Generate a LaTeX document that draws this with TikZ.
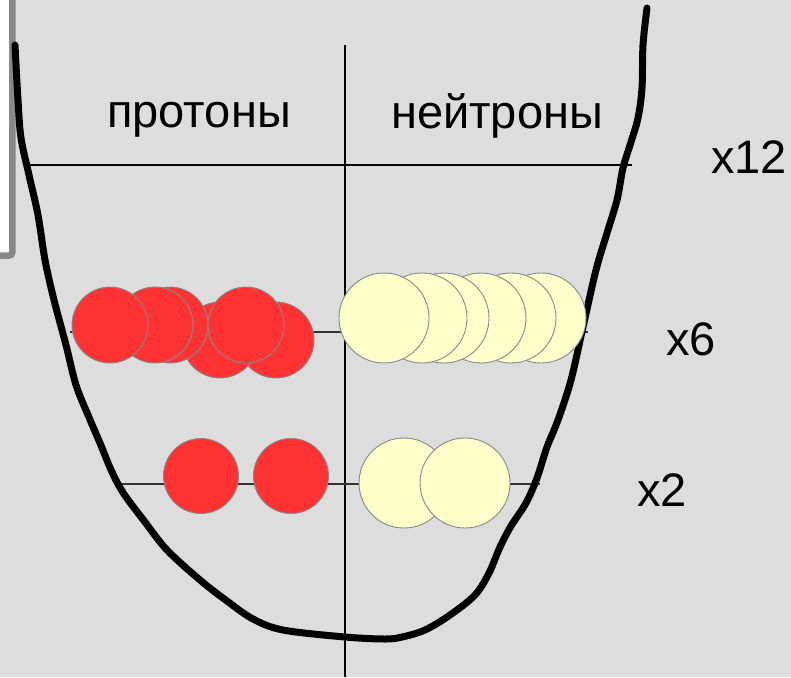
\documentclass[tikz,border=0pt]{standalone}
\usepackage{fontspec}
\setmainfont{Liberation Sans}
\definecolor{bgc}{HTML}{DDDDDD}
\definecolor{rimc}{HTML}{888888}
\definecolor{protc}{HTML}{FF3333}
\definecolor{neutc}{HTML}{FFFFCC}
\tikzset{
  proton/.style={circle, fill=protc, draw=rimc, line width=0.9pt, inner sep=0pt, minimum size=76pt},
  neutron/.style={circle, fill=neutc, draw=rimc, line width=0.9pt, inner sep=0pt, minimum size=90pt},
  lbl/.style={font=\fontsize{47}{56}\selectfont, inner sep=0pt, anchor=base},
  level/.style={line width=1.3pt, black!80},
}
\begin{document}
\begin{tikzpicture}[x=1pt,y=-1pt]
\useasboundingbox (0,0) rectangle (791,677);
\fill[bgc] (0,0) rectangle (791,677);
% white panel at top left
\filldraw[fill=white, draw=rimc, line width=6.5pt, rounded corners=3pt] (-20,-20) rectangle (12.3,255.5);
% grid lines
\draw[line width=1.3pt, black] (345,45) -- (345,677);
\draw[line width=1.3pt, black] (28,165) -- (632,165);
\draw[level] (70,332) -- (588,332);
\draw[level] (118,484) -- (540,484);
% well outline
\draw[line width=7pt, line cap=round, line join=round] plot[smooth, tension=0.55] coordinates {
 (15,45) (18,100) (21,138) (29,175) (38,215) (45,260) (54,300) (66,345) (76,385)
 (88,415) (100,443) (112,472) (124,494) (145,522) (167,550) (200,580) (227,601)
 (253,619) (283,630) (345,637) (385,639) (402,637) (425,630) (450,615) (475,595)
 (489,573) (500,547) (511,526) (526,503) (537,478) (547,447) (558,420) (571,380)
 (583,327) (596,270) (607,233) (617,200) (623,168) (631,142) (638,118) (642,88)
 (643,45) (647,8)};
% labels
\node[lbl] (tp) at (199,127) {протоны};
\node[lbl] (tn) at (497,128) {нейтроны};
\node[lbl] (t12) at (749,173) {x12};
\node[lbl] (t6) at (691,355) {x6};
\node[lbl] (t2) at (662,506) {x2};
% row 1 protons
\node[proton] (p5) at (276,340) {};
\node[proton] (p4) at (220,340) {};
\node[proton] (p3) at (170,325) {};
\node[proton] (p2) at (155,325) {};
\node[proton] (p1) at (110,325) {};
\node[proton] (p6) at (246,325) {};
% row 1 neutrons
\node[neutron] (n6) at (541,318) {};
\node[neutron] (n5) at (511,318) {};
\node[neutron] (n4) at (481,318) {};
\node[neutron] (n3) at (444,318) {};
\node[neutron] (n2) at (422,318) {};
\node[neutron] (n1) at (384,318) {};
% row 2
\node[proton, minimum size=75pt] (q1) at (201,476) {};
\node[proton, minimum size=75pt] (q2) at (291,476) {};
\node[neutron] (m1) at (404,483) {};
\node[neutron] (m2) at (465,483) {};
\end{tikzpicture}
\end{document}
